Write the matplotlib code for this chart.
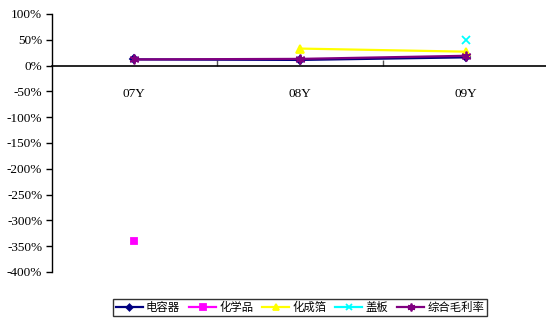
import numpy as np
import matplotlib
matplotlib.use("Agg")
import matplotlib.pyplot as plt
from matplotlib.ticker import FixedLocator, NullFormatter, FixedFormatter

plt.rcParams['font.family'] = ['Noto Sans CJK SC', 'DejaVu Sans']

years = ["07Y", "08Y", "09Y"]
capacitor = [12, 11, 16]          # 电容器
chemicals = [-340, np.nan, np.nan]  # 化学品
foil = [np.nan, 33, 27]           # 化成箔
cover = [np.nan, np.nan, 50]      # 盖板
overall = [12, 13, 19]            # 综合毛利率

series = [
    ("电容器", capacitor, "#000080", "D", 4),
    ("化学品", chemicals, "#FF00FF", "s", 5),
    ("化成箔", foil, "#FFFF00", "^", 6),
    ("盖板", cover, "#00FFFF", "x", 6),
    ("综合毛利率", overall, "#800080", (6, 2, 0), 7),
]

fig = plt.figure(figsize=(5.46, 3.25), dpi=100)
ax = fig.add_axes([52 / 546, 1 - 272 / 325, 1 - 52 / 546, (272 - 14) / 325])

x = np.arange(len(years))
for name, vals, color, marker, ms in series:
    ax.plot(x, vals, color=color, marker=marker, markersize=ms, lw=1.6,
            markeredgewidth=1.3, label=name, clip_on=False)

ax.set_xlim(-0.494, 2.482)
ax.set_ylim(-400, 100)

ax.spines['top'].set_visible(False)
ax.spines['right'].set_visible(False)
ax.spines['left'].set_linewidth(1.0)
ax.spines['bottom'].set_position(('data', 0))
ax.spines['bottom'].set_linewidth(1.2)

yt = np.arange(-400, 101, 50)
ax.set_yticks(yt)
ax.set_yticklabels([f"{v}%" for v in yt], family=['Liberation Serif'], fontsize=9.5)
ax.tick_params(axis='y', direction='out', length=4, width=1, pad=3)

ax.xaxis.set_major_locator(FixedLocator([0.5, 1.5]))
ax.xaxis.set_major_formatter(NullFormatter())
ax.xaxis.set_minor_locator(FixedLocator(list(x)))
ax.xaxis.set_minor_formatter(FixedFormatter(years))
ax.tick_params(axis='x', which='major', direction='in', length=4, width=1, color='#555555')
ax.tick_params(axis='x', which='minor', length=0, pad=16)
for lbl in ax.get_xticklabels(minor=True):
    lbl.set_family(['Liberation Serif'])
    lbl.set_fontsize(9.5)

leg = fig.legend(loc='center', bbox_to_anchor=(300 / 546, 1 - 307.5 / 325),
                 ncol=5, frameon=True, fancybox=False, edgecolor='black', fontsize=8.2,
                 handlelength=2.37, handletextpad=0.26, columnspacing=0.8,
                 borderpad=0.25, borderaxespad=0, markerscale=0.8)
leg.get_frame().set_linewidth(1.0)

fig.savefig("out.png", dpi=100)
